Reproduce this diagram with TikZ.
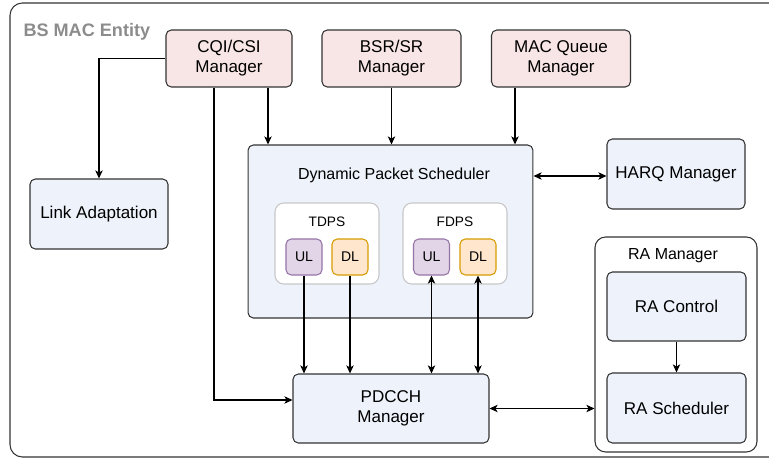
\documentclass[tikz,border=0pt]{standalone}
\usepackage{fontspec}
\setmainfont{Liberation Sans}
\usetikzlibrary{arrows.meta,positioning,calc}
\definecolor{macblue}{HTML}{EEF2FB}
\definecolor{macpink}{HTML}{F8E5E5}
\definecolor{macline}{HTML}{333333}
\definecolor{ulfill}{HTML}{E1D5E7}
\definecolor{uldraw}{HTML}{9673A6}
\definecolor{dlfill}{HTML}{FFE6CC}
\definecolor{dldraw}{HTML}{D79B00}
\definecolor{grpline}{HTML}{C8C8C8}
\definecolor{titlegray}{HTML}{8C8C8C}

\begin{document}
\begin{tikzpicture}[x=0.02cm,y=-0.02cm,>={Stealth[length=4.6pt,width=4.2pt,inset=1.2pt]},line width=0.6pt]
  \tikzset{
    box/.style={draw=macline,rounded corners=3pt,inner sep=0pt,align=center,
      font=\fontsize{9.7}{11.4}\selectfont},
    blk/.style={box,fill=macblue,minimum width=2.76cm,minimum height=1.4cm},
    mgr/.style={box,fill=macpink,minimum width=2.78cm,minimum height=1.14cm},
    grp/.style={draw=grpline,fill=white,rounded corners=5pt,minimum width=2.08cm,minimum height=1.62cm,inner sep=0pt},
    ulbox/.style={box,draw=uldraw,fill=ulfill,minimum size=0.72cm,font=\fontsize{8}{9}\selectfont},
    dlbox/.style={ulbox,draw=dldraw,fill=dlfill},
    lbl/.style={anchor=base,inner sep=0pt,font=\fontsize{9.1}{11}\selectfont}
  }
  \useasboundingbox (0,0) rectangle (769,459);
  \clip (0,0) rectangle (769,459);
  % outer entity frame
  \draw[macline,rounded corners=7pt] (10,3) rectangle (790,457);
  \node[anchor=base west,inner sep=0pt,text=titlegray,font=\fontsize{10.3}{12}\selectfont\bfseries] (title) at (23,37) {BS MAC Entity};

  % managers on top
  \node[mgr,minimum width=2.52cm] (cqi) at (229,58.5) {CQI/CSI\\Manager};
  \node[mgr] (bsr) at (391.5,58.5) {BSR/SR\\Manager};
  \node[mgr] (macq) at (561,58.5) {MAC Queue\\Manager};

  \node[blk] (link) at (99,214) {Link Adaptation};
  \node[blk] (harq) at (676,174) {HARQ Manager};

  % packet scheduler with TDPS / FDPS
  \node[blk,minimum width=5.7cm,minimum height=3.46cm] (dps) at (390.5,231.5) {};
  \node[lbl] (dpslbl) at (394,180) {Dynamic Packet Scheduler};
  \node[grp] (tdps) at (327,243.5) {};
  \node[lbl,font=\fontsize{7.8}{9}\selectfont] (tdpslbl) at (327,227) {TDPS};
  \node[ulbox] (tul) at (304,257) {UL};
  \node[dlbox] (tdl) at (350,257) {DL};
  \node[grp] (fdps) at (455,243.5) {};
  \node[lbl,font=\fontsize{7.8}{9}\selectfont] (fdpslbl) at (455,227) {FDPS};
  \node[ulbox] (ful) at (431.5,257) {UL};
  \node[dlbox] (fdl) at (478,257) {DL};

  \node[blk,minimum width=3.92cm,minimum height=1.38cm] (pdcch) at (391,408.5) {PDCCH\\Manager};

  % RA manager group
  \node[draw=macline,fill=white,rounded corners=6pt,minimum width=3.24cm,minimum height=4.3cm,inner sep=0pt] (ram) at (676,344.5) {};
  \node[lbl] (ramlbl) at (673,260) {RA Manager};
  \node[blk,minimum width=2.78cm,minimum height=1.38cm] (ractl) at (676.5,306.5) {RA Control};
  \node[blk,minimum width=2.78cm] (rasch) at (676.5,408) {RA Scheduler};

  % connectors
  \draw[->] (cqi.west) -| (link.north);
  \draw[->] (cqi.south -| 214,0) |- (pdcch.west |- 0,400);
  \draw[->] (cqi.south -| 268,0) -- (dps.north -| 268,0);
  \draw[->] (bsr.south) -- (bsr.south |- dps.north);
  \draw[->] (macq.south -| 515,0) -- (dps.north -| 515,0);
  \draw[<->] (dps.east |- 0,176) -- (harq.west |- 0,176);
  \draw[->] (tul.south) -- (tul.south |- pdcch.north);
  \draw[->] (tdl.south) -- (tdl.south |- pdcch.north);
  \draw[<->] (ful.south) -- (ful.south |- pdcch.north);
  \draw[<->] (fdl.south) -- (fdl.south |- pdcch.north);
  \draw[<->] (pdcch.east) -- (ram.west |- pdcch.east);
  \draw[->] (ractl.south) -- (rasch.north);
\end{tikzpicture}
\end{document}
